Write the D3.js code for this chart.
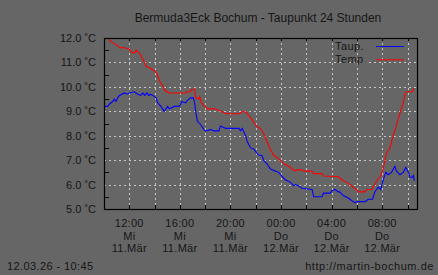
<!DOCTYPE html>
<html>
<head>
<meta charset="utf-8">
<title>Bermuda3Eck Bochum - Taupunkt</title>
<script src="https://cdn.jsdelivr.net/npm/d3@7"></script>
<style>
	body { margin: 0; background: #666666; }
	svg { display: block; font-family: "Liberation Sans", sans-serif; }
	text { fill: #161616; }
</style>
</head>
<body>
<svg width="438" height="275"></svg>
<script>
	// temperature (red), times are HH:MM starting 11.03. 10:00, rolling over midnight
	var tempTimes = ['10:22', '10:41', '11:05', '11:14', '11:38', '12:00', '12:11', '12:26', '12:32', '12:45',
		'12:54', '13:12', '13:19', '13:43', '13:59', '14:10', '14:23', '14:38', '14:49', '15:10',
		'16:28', '16:31', '16:50', '16:55', '17:10', '17:15', '17:29', '17:34', '17:42', '17:58',
		'18:12', '18:45', '19:01', '19:41', '20:44', '20:59', '21:15', '21:39', '22:03', '22:27',
		'22:42', '23:06', '23:25', '23:49', '00:13', '00:36', '00:52', '01:03', '01:15', '01:39',
		'01:47', '02:27', '02:35', '03:14', '03:22', '04:33', '04:47', '05:11', '05:34', '05:58',
		'06:07', '06:38', '06:46', '07:10', '07:25', '07:37', '07:52', '08:05', '08:13', '08:21',
		'08:36', '08:49', '09:05', '09:16', '09:27', '09:40', '09:48', '09:56', '10:24', '10:30'];
	var tempValues = [11.95, 11.8, 11.7, 11.6, 11.6, 11.55, 11.4, 11.4, 11.5, 11.4,
		11.3, 11.0, 10.85, 10.75, 10.65, 10.55, 10.25, 10.05, 9.85, 9.75,
		9.75, 9.8, 9.8, 9.9, 9.9, 9.55, 9.5, 9.6, 9.35, 9.2,
		9.1, 9.1, 9.05, 8.9, 8.9, 9.0, 8.95, 8.7, 8.4, 8.25,
		8.0, 7.5, 7.2, 7.05, 6.85, 6.75, 6.65, 6.55, 6.6, 6.6,
		6.55, 6.55, 6.45, 6.45, 6.35, 6.32, 6.2, 6.1, 5.95, 5.8,
		5.7, 5.7, 5.8, 5.8, 6.0, 6.2, 6.35, 6.65, 7.0, 7.3,
		7.5, 7.9, 8.35, 8.7, 9.0, 9.35, 9.7, 9.8, 9.8, 9.95];

	// dew point (blue)
	var dewTimes = ['10:02', '10:18', '10:26', '10:41', '10:49', '10:57', '11:05', '11:13', '11:37', '11:52',
		'12:00', '12:24', '12:40', '12:55', '13:04', '13:13', '13:23', '13:32', '13:41', '13:51',
		'14:07', '14:15', '14:30', '14:46', '15:02', '15:10', '15:34', '15:58', '16:09', '16:28',
		'16:36', '16:51', '17:04', '17:10', '17:15', '17:23', '17:39', '17:54', '18:02', '18:26',
		'18:42', '19:05', '19:13', '19:37', '20:40', '20:48', '20:56', '21:12', '21:20', '21:36',
		'21:51', '22:04', '22:15', '22:29', '22:37', '22:53', '23:09', '23:33', '23:49', '00:04',
		'00:20', '00:44', '01:00', '01:08', '01:23', '01:39', '02:27', '02:35', '03:14', '03:22',
		'03:54', '04:01', '04:17', '04:30', '04:38', '04:55', '05:19', '05:35', '05:51', '05:59',
		'06:38', '06:54', '07:14', '07:25', '07:41', '07:53', '08:05', '08:17', '08:29', '08:44',
		'09:00', '09:08', '09:24', '09:40', '09:52', '10:04', '10:12', '10:25', '10:28', '10:32'];
	var dewValues = [9.2, 9.2, 9.3, 9.4, 9.5, 9.4, 9.55, 9.65, 9.75, 9.7,
		9.75, 9.8, 9.7, 9.65, 9.75, 9.65, 9.75, 9.65, 9.7, 9.65,
		9.55, 9.35, 9.2, 9.0, 9.2, 9.1, 9.2, 9.2, 9.4, 9.35,
		9.45, 9.55, 9.55, 9.35, 9.0, 8.6, 8.45, 8.25, 8.2, 8.25,
		8.2, 8.2, 8.4, 8.3, 8.3, 8.2, 8.3, 8.0, 7.75, 7.5,
		7.45, 7.3, 7.2, 7.2, 7.0, 6.85, 6.65, 6.55, 6.5, 6.35,
		6.2, 6.1, 5.95, 6.0, 5.95, 5.85, 5.8, 5.5, 5.5, 5.65,
		5.65, 5.75, 5.8, 5.7, 5.7, 5.55, 5.45, 5.35, 5.25, 5.3,
		5.3, 5.4, 5.4, 5.7, 5.9, 5.8, 6.2, 6.5, 6.4, 6.5,
		6.75, 6.55, 6.4, 6.5, 6.7, 6.5, 6.3, 6.3, 6.4, 6.15];

	var yTicks = [5, 6, 7, 8, 9, 10, 11, 12];
	var xTickTimes = ['12:00', '16:00', '20:00', '00:00', '04:00', '08:00'];
	var xTickDays = ['Mi', 'Mi', 'Mi', 'Do', 'Do', 'Do'];
	var xTickDates = ['11.Mär', '11.Mär', '11.Mär', '12.Mär', '12.Mär', '12.Mär'];

	var title = 'Bermuda3Eck Bochum - Taupunkt 24 Stunden';
	var stamp = '12.03.26 - 10:45';
	var site = 'http://martin-bochum.de';

	var start = new Date(2026, 2, 11, 10, 0);
	var end = new Date(2026, 2, 12, 10, 45);

	// turn HH:MM list into dates, adding a day once the clock wraps
	function toDates(times) {
		var day = 11, prev = -1;
		return times.map(function(s) {
			var p = s.split(':'), m = +p[0] * 60 + +p[1];
			if (m < prev) day++;
			prev = m;
			return new Date(2026, 2, day, +p[0], +p[1]);
		});
	}

	var margin = { left: 104, top: 38 },
		w = 313, h = 171;

	var x = d3.scaleTime().domain([start, end]).range([0, w]);
	var y = d3.scaleLinear().domain([5, 12]).range([h, 0]);

	var svg = d3.select('svg');
	svg.append('rect').attr('width', 438).attr('height', 275).attr('fill', '#666666');

	svg.append('text')
		.attr('x', 258).attr('y', 22)
		.attr('text-anchor', 'middle')
		.style('font-size', '12px')
		.text(title);

	var g = svg.append('g').attr('transform', 'translate(' + margin.left + ',' + margin.top + ')');

	// grid lines every 2 hours and every degree
	var gridTimes = d3.timeHour.every(2).range(new Date(2026, 2, 11, 12, 0), end);

	g.selectAll('.vgrid').data(gridTimes).enter().append('line')
		.attr('x1', function(d) { return Math.round(x(d)) + 0.5; })
		.attr('x2', function(d) { return Math.round(x(d)) + 0.5; })
		.attr('y1', 0).attr('y2', h)
		.attr('stroke', '#c8c8c8').attr('stroke-dasharray', '2,3');

	g.selectAll('.hgrid').data(yTicks.slice(1, -1)).enter().append('line')
		.attr('y1', function(d) { return Math.round(y(d)) + 0.5; })
		.attr('y2', function(d) { return Math.round(y(d)) + 0.5; })
		.attr('x1', 0).attr('x2', w)
		.attr('stroke', '#c8c8c8').attr('stroke-dasharray', '2,3');

	// tick marks inside the frame
	g.selectAll('.ttick').data(gridTimes).enter().append('path')
		.attr('d', function(d) {
			var px = Math.round(x(d)) + 0.5;
			return 'M' + px + ',0V3M' + px + ',' + h + 'V' + (h - 4);
		})
		.attr('stroke', '#000');

	g.selectAll('.ytick').data(d3.range(5.5, 12, 1)).enter().append('line')
		.attr('y1', function(d) { return Math.round(y(d)) + 0.5; })
		.attr('y2', function(d) { return Math.round(y(d)) + 0.5; })
		.attr('x1', 0).attr('x2', 5)
		.attr('stroke', '#000');

	// data lines
	var line = d3.line()
		.x(function(d) { return x(d[0]); })
		.y(function(d) { return y(d[1]); });

	var tempData = d3.zip(toDates(tempTimes), tempValues);
	var dewData = d3.zip(toDates(dewTimes), dewValues);

	g.append('path').datum(dewData)
		.attr('d', line).attr('fill', 'none').attr('stroke', '#0000ff').attr('stroke-width', 1.1);
	g.append('path').datum(tempData)
		.attr('d', line).attr('fill', 'none').attr('stroke', '#ff0000').attr('stroke-width', 1.1);

	g.append('rect')
		.attr('x', 0.5).attr('y', 0.5).attr('width', w).attr('height', h)
		.attr('fill', 'none').attr('stroke', '#000').attr('stroke-width', 1.2);

	// y labels
	g.selectAll('.ylab').data(yTicks).enter().append('text')
		.attr('x', -8).attr('y', function(d) { return y(d) + 4; })
		.attr('text-anchor', 'end')
		.style('font-size', '11px')
		.text(function(d) { return d.toFixed(1) + ' \u02daC'; });

	// x labels, three lines
	[xTickTimes, xTickDays, xTickDates].forEach(function(row, r) {
		g.selectAll('.xlab' + r).data(row).enter().append('text')
			.attr('x', function(d, i) { return x(new Date(2026, 2, 11, 12 + i * 4, 0)); })
			.attr('y', h + 18 + r * 12.6)
			.attr('text-anchor', 'middle')
			.style('font-size', '11px')
			.style('letter-spacing', '0.3px')
			.text(function(d) { return d; });
	});

	// legend
	var legend = [['Taup.', '#0000ff'], ['Temp.', '#ff0000']];
	var lg = svg.selectAll('.leg').data(legend).enter().append('g')
		.attr('transform', function(d, i) { return 'translate(335,' + (46 + i * 13.3) + ')'; });
	lg.append('text').attr('y', 4).style('font-size', '11px').style('letter-spacing', '0.4px')
		.text(function(d) { return d[0]; });
	lg.append('line').attr('x1', 41).attr('x2', 69).attr('y1', 0.5).attr('y2', 0.5)
		.attr('stroke', function(d) { return d[1]; });

	svg.append('text').attr('x', 7).attr('y', 270)
		.style('font-size', '11px').style('letter-spacing', '0.4px').text(stamp);
	svg.append('text').attr('x', 434).attr('y', 270).attr('text-anchor', 'end')
		.style('font-size', '11px').style('letter-spacing', '0.55px').text(site);
</script>
</body>
</html>
